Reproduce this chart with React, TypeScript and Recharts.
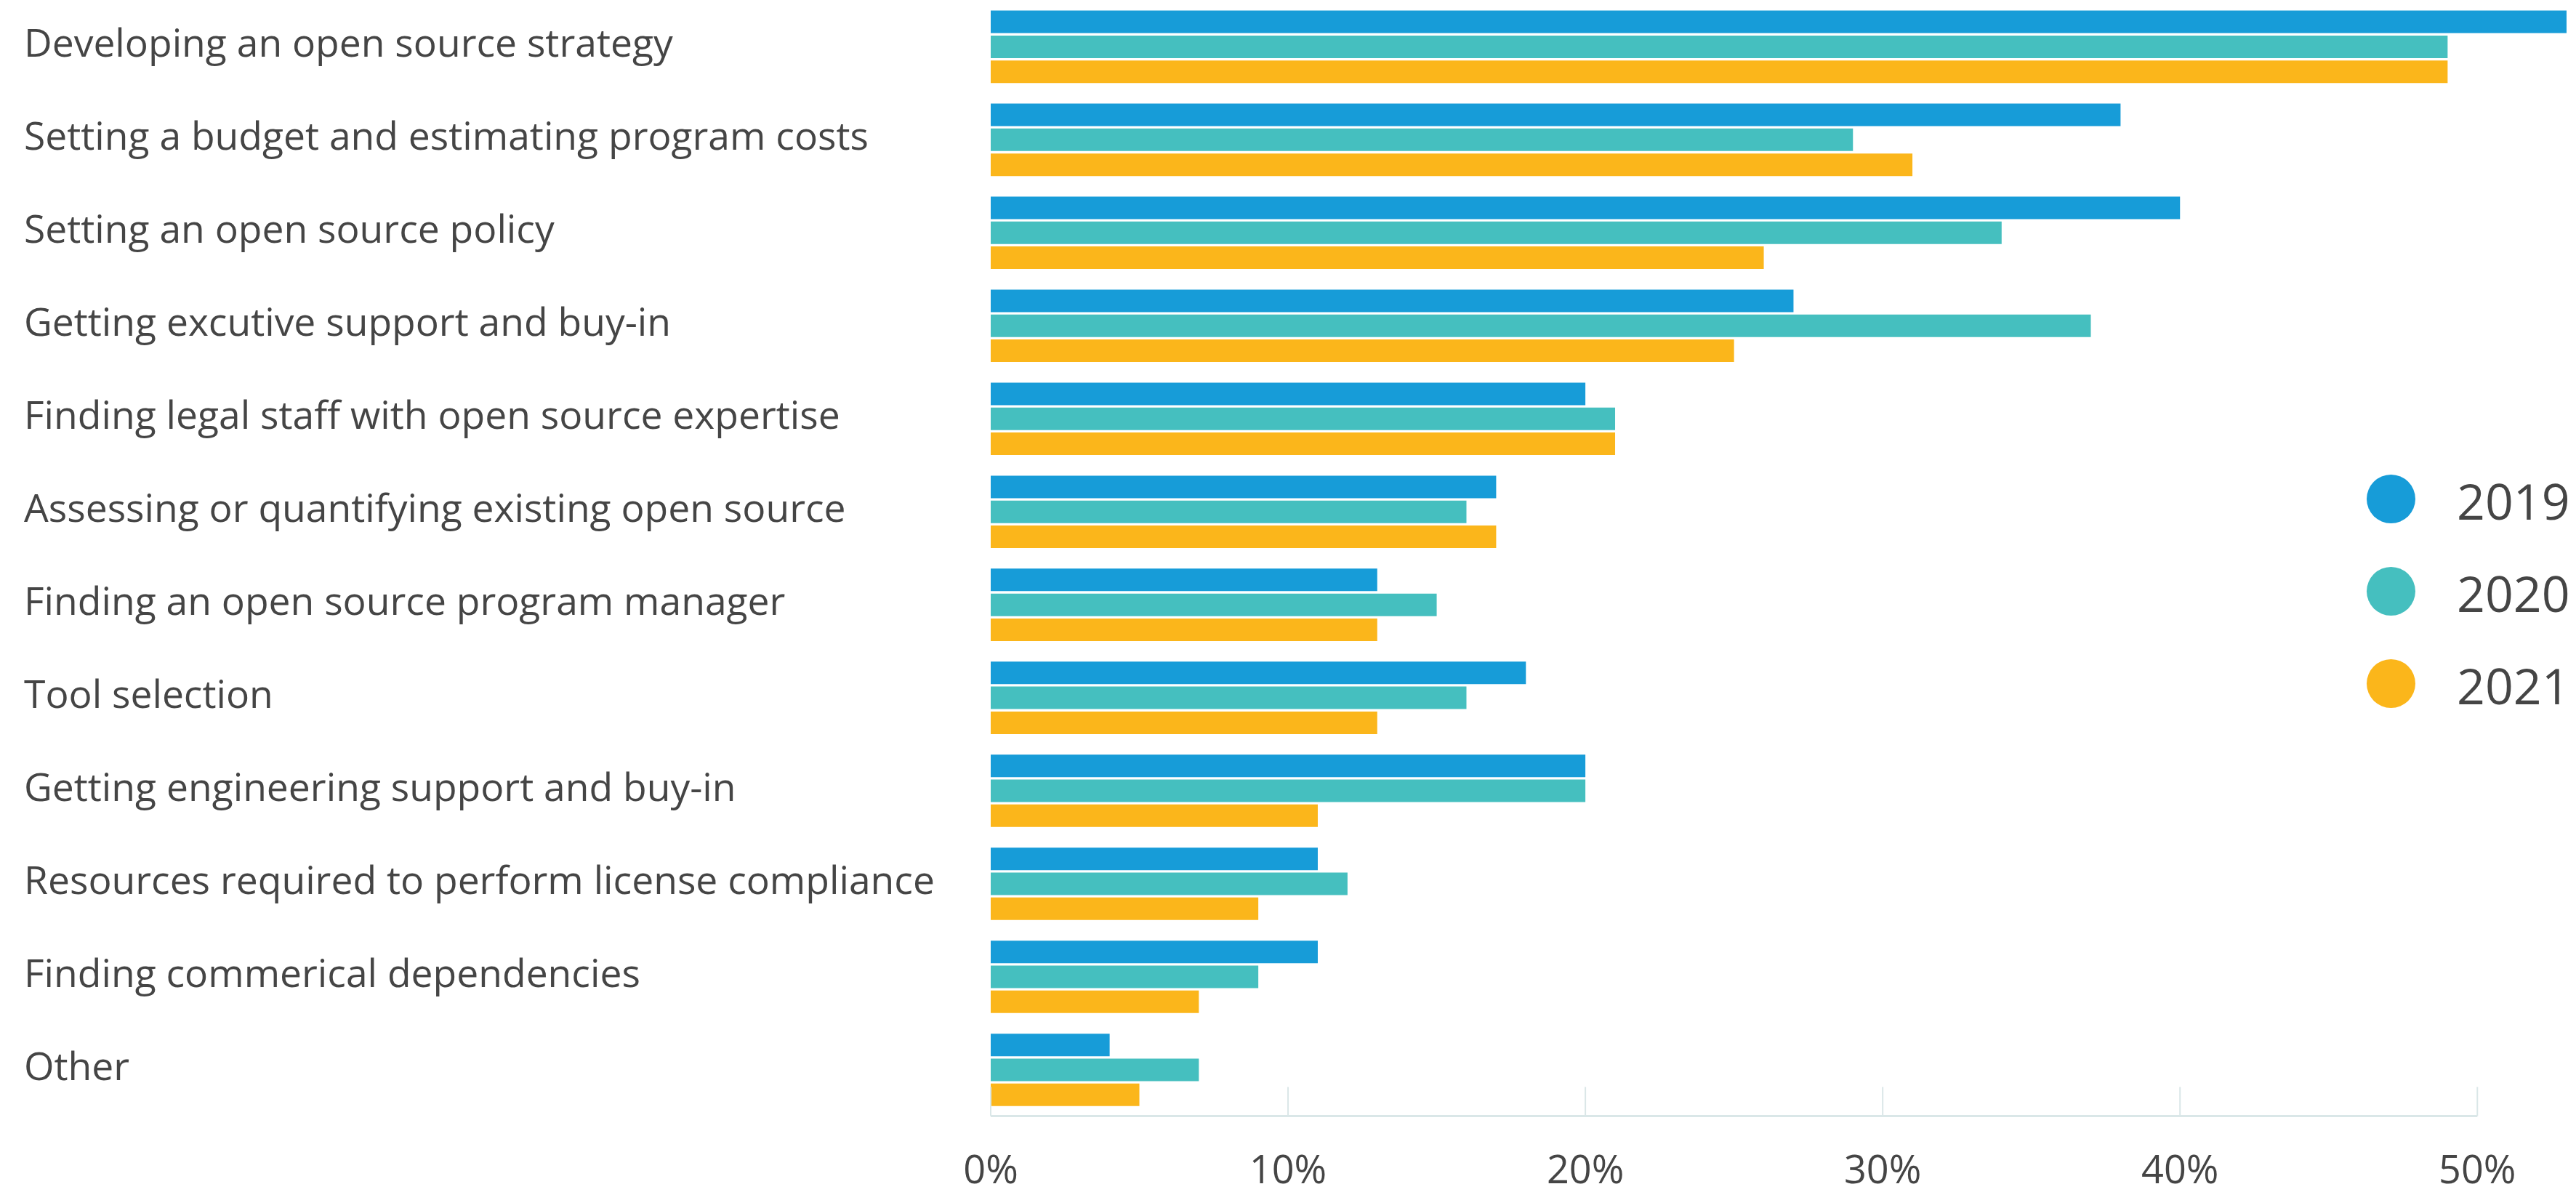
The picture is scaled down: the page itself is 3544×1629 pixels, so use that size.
import { BarChart, Bar, XAxis, YAxis, Legend } from 'recharts';

const categories = [
  'Developing an open source strategy',
  'Setting a budget and estimating program costs',
  'Setting an open source policy',
  'Getting excutive support and buy-in',
  'Finding legal staff with open source expertise',
  'Assessing or quantifying existing open source',
  'Finding an open source program manager',
  'Tool selection',
  'Getting engineering support and buy-in',
  'Resources required to perform license compliance',
  'Finding commerical dependencies',
  'Other',
];

const years = ['2019', '2020', '2021'];
const values2019 = [53, 38, 40, 27, 20, 17, 13, 18, 20, 11, 11, 4];
const values2020 = [49, 29, 34, 37, 21, 16, 15, 16, 20, 12, 9, 7];
const values2021 = [49, 31, 26, 25, 21, 17, 13, 13, 11, 9, 7, 5];
const xTicks = [0, 10, 20, 30, 40, 50];
const xMax = 53;

const colors = ['#179cd8', '#45bfbf', '#fbb61b'];

const data = categories.map((name, i) => ({
  name,
  v2019: values2019[i],
  v2020: values2020[i],
  v2021: values2021[i],
}));

// layout
const W = 3544;
const H = 1629;
const Y_AXIS_W = 1363;
const RIGHT = 13;
const X_AXIS_H = 93.5;
const PLOT_BOTTOM = H - X_AXIS_H;
const PLOT_W = W - Y_AXIS_W - RIGHT;
const AXIS_LEN = (PLOT_W * xTicks[xTicks.length - 1]) / xMax;

const FONT = "'Open Sans', 'Noto Sans', sans-serif";
const TEXT = '#454545';
const LINE = '#dae7e8';

const YTick = ({ y, payload }: any) => (
  <text x={33} y={y} dy={14} fontFamily={FONT} fontSize={53.4} fill={TEXT} textAnchor="start">
    {payload.value}
  </text>
);

const XTick = ({ x, payload }: any) => (
  <g>
    <line x1={x} x2={x} y1={PLOT_BOTTOM} y2={PLOT_BOTTOM - 40} stroke={LINE} strokeWidth={2} />
    <text x={x} y={PLOT_BOTTOM + 92} fontFamily={FONT} fontSize={54} fill={TEXT} textAnchor="middle">
      {payload.value}%
    </text>
  </g>
);

const renderLegend = ({ payload }: any) => (
  <div style={{ fontFamily: FONT }}>
    {(payload || []).map((entry: any) => (
      <div key={entry.value} style={{ display: 'flex', alignItems: 'center', height: 127 }}>
        <div style={{ width: 67, height: 67, borderRadius: '50%', background: entry.color }} />
        <div style={{ marginLeft: 57, fontSize: 68, lineHeight: 1, color: TEXT, paddingTop: 6 }}>{entry.value}</div>
      </div>
    ))}
  </div>
);

export default function App() {
  return (
    <div style={{ position: 'absolute', left: 0, top: 0, width: W, height: H, background: 'white' }}>
      <BarChart
        width={W}
        height={H}
        data={data}
        layout="vertical"
        margin={{ top: 0, right: RIGHT, bottom: 0, left: 0 }}
        barCategoryGap={14.6}
        barGap={3.3}
      >
        <XAxis
          type="number"
          domain={[0, xMax]}
          ticks={xTicks}
          interval={0}
          height={X_AXIS_H}
          tickLine={false}
          tickSize={0}
          axisLine={{ stroke: LINE, strokeWidth: 3, strokeDasharray: `${AXIS_LEN} 10000` }}
          tick={<XTick />}
        />
        <YAxis
          type="category"
          dataKey="name"
          width={Y_AXIS_W}
          interval={0}
          axisLine={false}
          tickLine={false}
          tick={<YTick />}
        />
        <Legend
          layout="vertical"
          align="center"
          verticalAlign="middle"
          wrapperStyle={{ left: 3256, top: 622.5, width: 288 }}
          content={renderLegend}
        />
        <Bar dataKey="v2019" name={years[0]} fill={colors[0]} isAnimationActive={false} />
        <Bar dataKey="v2020" name={years[1]} fill={colors[1]} isAnimationActive={false} />
        <Bar dataKey="v2021" name={years[2]} fill={colors[2]} isAnimationActive={false} />
      </BarChart>
    </div>
  );
}
